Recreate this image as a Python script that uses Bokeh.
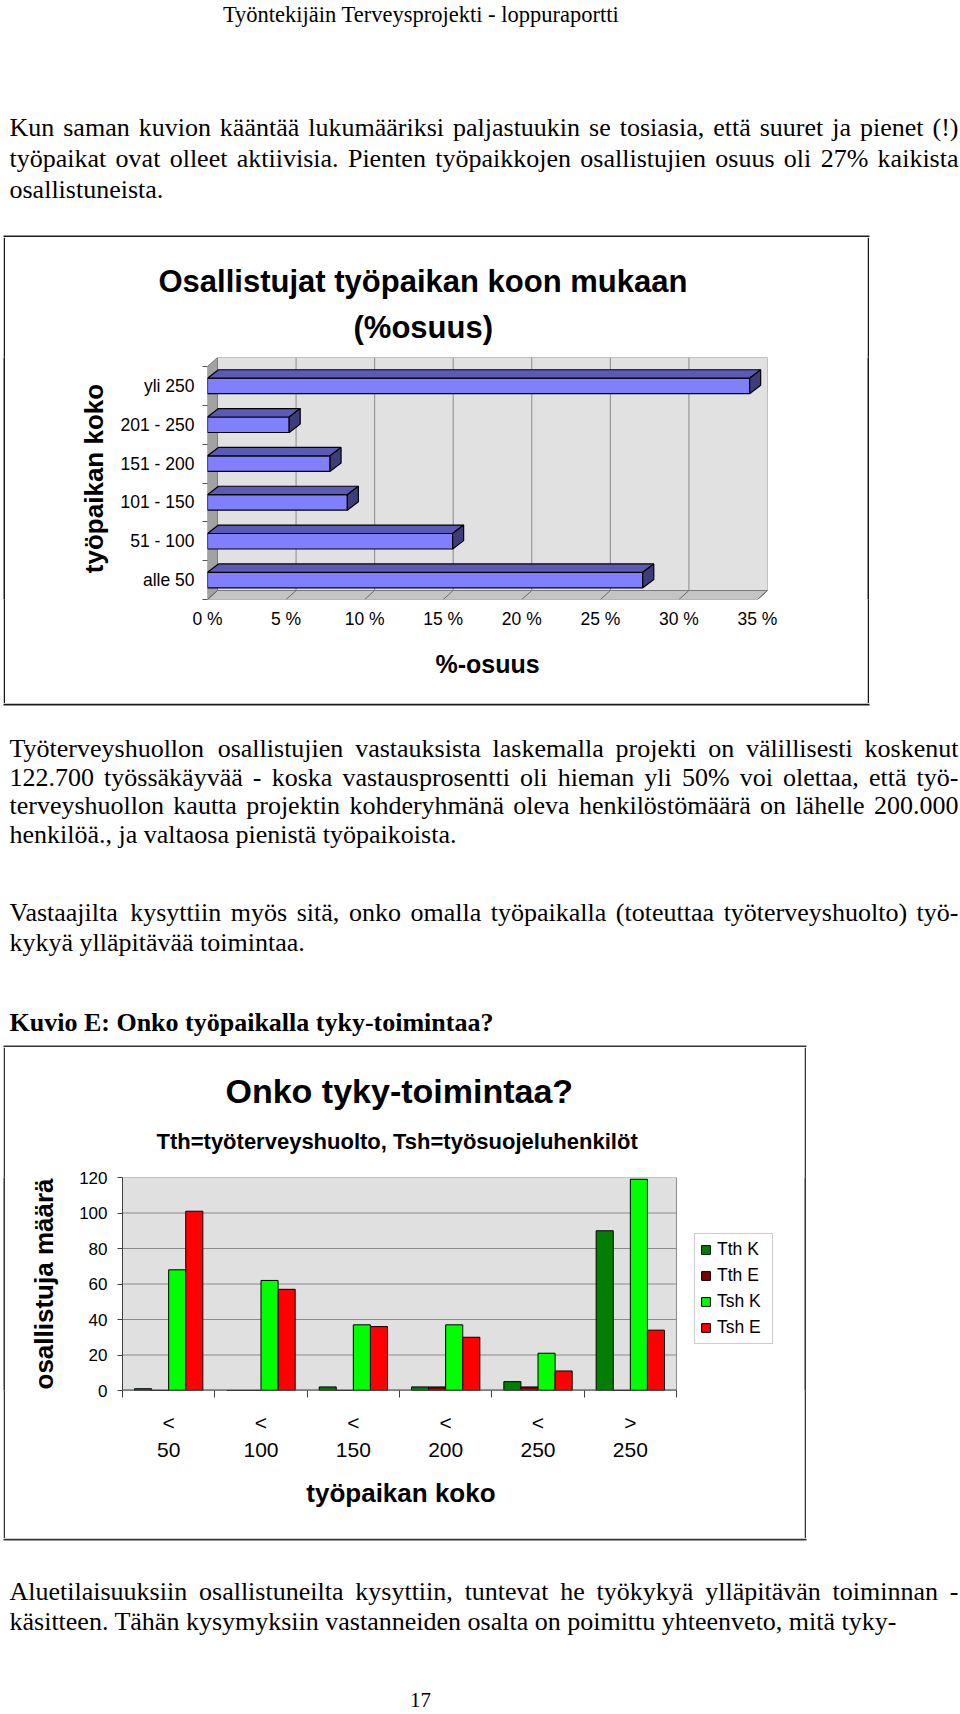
from bokeh.plotting import figure
from bokeh.models import (Range1d, FixedTicker, Title, Legend, LegendItem, Spacer,
                          ColumnDataSource)
from bokeh.layouts import column, row
from bokeh.core.properties import value
from bokeh.embed import file_html
from bokeh.resources import INLINE

# ---------------- data: chart 1 (share of participants by workplace size) -------------
size_cats = ["alle 50", "51 - 100", "101 - 150", "151 - 200", "201 - 250", "yli 250"]
size_share = [27.7, 15.6, 8.9, 7.8, 5.2, 34.5]
pct_ticks = [0, 5, 10, 15, 20, 25, 30, 35]
pct_labels = ["0 %", "5 %", "10 %", "15 %", "20 %", "25 %", "30 %", "35 %"]

# ---------------- data: chart 2 (tyky activity) ----------------------------------------
group_labels = ["<\n50", "<\n100", "<\n150", "<\n200", "<\n250", ">\n250"]
series_names = ["Tth K", "Tth E", "Tsh K", "Tsh E"]
tth_k = [1, 0, 2, 2, 5, 90]
tth_e = [0, 0, 0, 2, 2, 0]
tsh_k = [68, 62, 37, 37, 21, 119]
tsh_e = [101, 57, 36, 30, 11, 34]
count_ticks = [0, 20, 40, 60, 80, 100, 120]

# ---------------- page text -------------------------------------------------------------
header = "Työntekijäin Terveysprojekti - loppuraportti"
para1 = ["Kun saman kuvion kääntää lukumääriksi paljastuukin se tosiasia, että suuret ja pienet (!)",
         "työpaikat ovat olleet aktiivisia. Pienten työpaikkojen osallistujien osuus oli 27% kaikista",
         "osallistuneista."]
para2 = ["Työterveyshuollon osallistujien vastauksista laskemalla projekti on välillisesti koskenut",
         "122.700 työssäkäyvää - koska vastausprosentti oli hieman yli 50% voi olettaa, että työ-",
         "terveyshuollon kautta projektin kohderyhmänä oleva henkilöstömäärä on lähelle 200.000",
         "henkilöä., ja valtaosa pienistä työpaikoista."]
para3 = ["Vastaajilta kysyttiin myös sitä, onko omalla työpaikalla (toteuttaa työterveyshuolto) työ-",
         "kykyä ylläpitävää toimintaa."]
caption = "Kuvio E: Onko työpaikalla tyky-toimintaa?"
para4 = ["Aluetilaisuuksiin osallistuneilta kysyttiin, tuntevat he työkykyä ylläpitävän toiminnan -",
         "käsitteen. Tähän kysymyksiin vastanneiden osalta on poimittu yhteenveto, mitä tyky-"]
page_no = "17"

SERIF = "Liberation Serif"
SANS = "Liberation Sans"
BOX1_X = (3, 869)      # horizontal extent of the frame around chart 1 (page px)
BOX2_X = (3, 806)      # horizontal extent of the frame around chart 2 (page px)

# Times New Roman advance widths (em) used to justify lines
TW = {" ": .25, "!": .333, "(": .333, ")": .333, ",": .25, "-": .333, ".": .25, ":": .278,
      "%": .833, "?": .444, "ä": .444, "ö": .5, "Ä": .722, "Ö": .722}
for ch in "0123456789":
    TW[ch] = .5
TW.update(dict(zip("abcdefghijklmnopqrstuvwxyz",
                   [.444, .5, .444, .5, .444, .333, .5, .5, .278, .278, .5, .278, .778, .5, .5,
                    .5, .5, .333, .389, .278, .5, .5, .722, .5, .5, .444])))
TW.update(dict(zip("ABCDEFGHIJKLMNOPQRSTUVWXYZ",
                   [.722, .667, .667, .722, .611, .556, .722, .722, .333, .389, .722, .611, .889,
                    .722, .722, .556, .722, .667, .556, .611, .722, .722, .944, .722, .722, .611])))


def tw(s, size):
    return sum(TW.get(c, .5) for c in s) * size


def lay_lines(lines, baselines, size=26, left=9, right=958):
    xs, ys, ts = [], [], []
    for k, (line, y) in enumerate(zip(lines, baselines)):
        last = (k == len(lines) - 1)
        words = line.split(" ")
        if not last and len(words) > 1:
            total = sum(tw(w, size) for w in words)
            gap = (right - left - total) / (len(words) - 1)
            x = left
            for w in words:
                xs.append(x); ys.append(y); ts.append(w)
                x += tw(w, size) + gap
        else:
            xs.append(left); ys.append(y); ts.append(line)
    return dict(x=xs, y=ys, text=ts)


def text_fig(h):
    return figure(width=960, height=h, x_range=Range1d(0, 960), y_range=Range1d(h, 0),
                  x_axis_type=None, y_axis_type=None, toolbar_location=None, title=None,
                  output_backend="svg", min_border=0, outline_line_color=None)


def rule_fig(w, h, color):
    return figure(width=w, height=h, x_range=Range1d(0, 1), y_range=Range1d(0, 1),
                  x_axis_type=None, y_axis_type=None, toolbar_location=None, title=None,
                  output_backend="svg", min_border=0, outline_line_color=None,
                  background_fill_color=color, border_fill_color=color)


def put_text(p, data, size="26px", style="normal", align="left"):
    p.text(x="x", y="y", text="text", source=ColumnDataSource(data),
           text_font=value(SERIF), text_font_size=size, text_font_style=style,
           text_baseline="alphabetic", text_align=align, text_color="black")


def hrule(p, xr, y0, y1, color):
    p.quad(left=[xr[0]], right=[xr[1]], top=[y0], bottom=[y1], fill_color=color,
           line_color=None)


def boxed(fig, h, color):
    return row(Spacer(width=3, height=h), rule_fig(2, h, color), fig, rule_fig(2, h, color))


# ---------------- top text block (0..237) -----------------------------------------------
top = text_fig(237)
put_text(top, dict(x=[420.5], y=[14], text=[header]), size="22.5px", align="center")
put_text(top, lay_lines(para1, [127, 158, 189]))
hrule(top, BOX1_X, 235, 237, "#1a1a1a")

# ---------------- chart 1 (862 x 466, page origin 5,237) --------------------------------
n = len(size_cats)
PX_PCT = 550 / 35.0
PX_CAT = 233 / 6.0
DXW, DYW = 10 / PX_PCT, 9 / PX_CAT
DXB, DYB = 11 / PX_PCT, 8.4 / PX_CAT
HB = 0.2
xmax = pct_ticks[-1]

fig1 = figure(width=862, height=466, x_range=Range1d(0, xmax + DXW),
              y_range=Range1d(0, n + DYW), toolbar_location=None, output_backend="svg",
              min_border_left=202, min_border_right=100, min_border_top=120,
              min_border_bottom=104, outline_line_color=None,
              title="Osallistujat työpaikan koon mukaan")
fig1.xgrid.visible = False
fig1.ygrid.visible = False
fig1.quad(left=[DXW], right=[xmax + DXW], bottom=[DYW], top=[n + DYW],
          fill_color="#e1e1e1", line_color="#8a8a8a", line_width=1)
fig1.patch([0, xmax, xmax + DXW, DXW], [0, 0, DYW, DYW], fill_color="#c4c4c4",
           line_color="#7a7a7a", line_width=1)
fig1.patch([0, DXW, DXW, 0], [0, DYW, n + DYW, n], fill_color="#a2a2a2",
           line_color="#7a7a7a", line_width=1)
fig1.segment(x0=[t + DXW for t in pct_ticks[1:-1]], y0=[DYW] * (len(pct_ticks) - 2),
             x1=[t + DXW for t in pct_ticks[1:-1]], y1=[n + DYW] * (len(pct_ticks) - 2),
             line_color="#8a8a8a", line_width=1)
fig1.segment(x0=pct_ticks, y0=[0] * len(pct_ticks), x1=[t + DXW for t in pct_ticks],
             y1=[DYW] * len(pct_ticks), line_color="#6a6a6a", line_width=1)
yc = [i + 0.5 for i in range(n)]
fig1.quad(left=[0] * n, right=size_share, bottom=[c - HB for c in yc], top=[c + HB for c in yc],
          fill_color="#8080ff", line_color="black", line_width=1.2)
fig1.patches(xs=[[0, v, v + DXB, DXB] for v in size_share],
             ys=[[c + HB, c + HB, c + HB + DYB, c + HB + DYB] for c in yc],
             fill_color="#5b5bb6", line_color="black", line_width=1.2)
fig1.patches(xs=[[v, v + DXB, v + DXB, v] for v in size_share],
             ys=[[c - HB, c - HB + DYB, c + HB + DYB, c + HB] for c in yc],
             fill_color="#3d3d7a", line_color="black", line_width=1.2)

t1 = fig1.title
t1.text_font = SANS
t1.text_font_size = "31px"
t1.text_font_style = "bold"
t1.text_color = "black"
t1.align = "left"
t1.offset = -49
t1.standoff = -8
fig1.add_layout(Title(text="(%osuus)", text_font=SANS,
                      text_font_size="31px", text_font_style="bold", text_color="black",
                      align="left", offset=146, standoff=25.5), "above")

ya = fig1.yaxis[0]
ya.ticker = FixedTicker(ticks=yc, minor_ticks=list(range(n + 1)))
ya.major_label_overrides = {c: s for c, s in zip(yc, size_cats)}
ya.major_tick_out = 0
ya.major_tick_in = 0
ya.minor_tick_out = 5
ya.minor_tick_in = 0
ya.minor_tick_line_color = "#555555"
ya.axis_line_color = None
ya.major_label_standoff = 8
ya.major_label_text_font = SANS
ya.major_label_text_font_size = "17.5px"
ya.major_label_text_color = "black"
ya.axis_label = "työpaikan koko"
ya.axis_label_text_font = SANS
ya.axis_label_text_font_size = "26px"
ya.axis_label_text_font_style = "bold"
ya.axis_label_text_color = "black"
ya.axis_label_standoff = 9

xa = fig1.xaxis[0]
xa.ticker = FixedTicker(ticks=pct_ticks)
xa.major_label_overrides = {t: s for t, s in zip(pct_ticks, pct_labels)}
xa.major_tick_out = 0
xa.major_tick_in = 0
xa.axis_line_color = None
xa.major_label_standoff = 9
xa.major_label_text_font = SANS
xa.major_label_text_font_size = "17.5px"
xa.major_label_text_color = "black"
xa.axis_label = "%-osuus"
xa.axis_label_text_font = SANS
xa.axis_label_text_font_size = "25px"
xa.axis_label_text_font_style = "bold"
xa.axis_label_text_color = "black"
xa.axis_label_standoff = 18

# ---------------- middle text block (703..1047) -----------------------------------------
mid = text_fig(344)
hrule(mid, BOX1_X, 0, 2, "#1a1a1a")
put_text(mid, lay_lines(para2, [45, 73.5, 102, 130.5]))
put_text(mid, lay_lines(para3, [209, 239]))
put_text(mid, dict(x=[9], y=[318.5], text=[caption]), style="bold")
hrule(mid, BOX2_X, 342, 344, "#333333")

# ---------------- chart 2 (799 x 491, page origin 5,1047) -------------------------------
# the frame is widened to the right so that the legend sits inside it; the grey plot
# area covers only the six size groups
m = len(group_labels)
PX_GRP = 554 / m
XEND = m + 104 / PX_GRP
ytop = count_ticks[-1]
fig2 = figure(width=799, height=491, x_range=Range1d(0, XEND), y_range=Range1d(0, ytop),
              toolbar_location=None, output_backend="svg",
              min_border_left=117, min_border_right=24, min_border_top=130,
              min_border_bottom=148, background_fill_color="white",
              outline_line_color=None,
              title="Onko tyky-toimintaa?")
fig2.title.text_font = SANS
fig2.title.text_font_size = "34px"
fig2.title.text_font_style = "bold"
fig2.title.text_color = "black"
fig2.title.align = "left"
fig2.title.offset = 103
fig2.title.standoff = -12
fig2.add_layout(Title(text="Tth=työterveyshuolto, Tsh=työsuojeluhenkilöt", text_font=SANS,
                      text_font_size="22px", text_font_style="bold", text_color="black",
                      align="left", offset=34, standoff=47), "above")

fig2.quad(left=[0], right=[m], bottom=[0], top=[ytop], fill_color="#e0e0e0",
          line_color="#8c8c8c", line_width=1)
inner = count_ticks[1:-1]
fig2.segment(x0=[0] * len(inner), y0=inner, x1=[m] * len(inner), y1=inner,
             line_color="#8a8a8a", line_width=1)

bw = 0.185
offsets = [-1.5 * bw, -0.5 * bw, 0.5 * bw, 1.5 * bw]
colors = ["#007f00", "#7f0000", "#00ff00", "#ff0000"]
items = []
for k, (name, vals) in enumerate(zip(series_names, [tth_k, tth_e, tsh_k, tsh_e])):
    r = fig2.vbar(x=[i + 0.5 + offsets[k] for i in range(m)], top=vals, bottom=0, width=bw,
                  fill_color=colors[k], line_color="black", line_width=1)
    items.append(LegendItem(label=name, renderers=[r]))

fig2.segment(x0=[0], y0=[0], x1=[m], y1=[0], line_color="#404040", line_width=2)

legend = Legend(items=items, location=(572, 46), glyph_width=11, glyph_height=11,
                label_height=19, label_width=50, spacing=5, padding=5, margin=0,
                label_standoff=6, label_text_font=SANS, label_text_font_size="17.5px",
                label_text_color="black", border_line_color="#9a9a9a", border_line_width=1,
                background_fill_color="white", background_fill_alpha=1)
fig2.add_layout(legend)

fig2.xgrid.visible = False
fig2.ygrid.visible = False

y2 = fig2.yaxis[0]
y2.ticker = FixedTicker(ticks=count_ticks)
y2.major_tick_out = 5
y2.major_tick_in = 0
y2.major_tick_line_color = "#404040"
y2.minor_tick_line_color = None
y2.axis_line_color = "#404040"
y2.major_label_standoff = 10
y2.major_label_text_font = SANS
y2.major_label_text_font_size = "17px"
y2.major_label_text_color = "black"
y2.axis_label = "osallistuja määrä"
y2.axis_label_text_font = SANS
y2.axis_label_text_font_size = "26px"
y2.axis_label_text_font_style = "bold"
y2.axis_label_text_color = "black"
y2.axis_label_standoff = 17

x2 = fig2.xaxis[0]
centers = [i + 0.5 for i in range(m)]
x2.ticker = FixedTicker(ticks=centers, minor_ticks=list(range(m + 1)))
x2.major_label_overrides = {c: s for c, s in zip(centers, group_labels)}
x2.major_tick_out = 0
x2.major_tick_in = 0
x2.minor_tick_out = 7
x2.minor_tick_in = 0
x2.minor_tick_line_color = "#404040"
x2.axis_line_color = None
x2.major_label_standoff = 13
x2.major_label_text_font = SANS
x2.major_label_text_font_size = "21px"
x2.major_label_text_color = "black"
x2.axis_label = "työpaikan koko" + "\u00a0" * 14
x2.axis_label_text_font = SANS
x2.axis_label_text_font_size = "26px"
x2.axis_label_text_font_style = "bold"
x2.axis_label_text_color = "black"
x2.axis_label_standoff = 14

# ---------------- bottom text block (1538..1714) ----------------------------------------
bot = text_fig(176)
hrule(bot, BOX2_X, 0, 2, "#333333")
put_text(bot, lay_lines(para4, [53, 83]))
put_text(bot, dict(x=[420], y=[161], text=[page_no]), size="21px", align="center")

page = column(top,
              boxed(fig1, 466, "#1a1a1a"),
              mid,
              boxed(fig2, 491, "#333333"),
              bot)

open("out.html", "w").write(file_html(page, INLINE))
